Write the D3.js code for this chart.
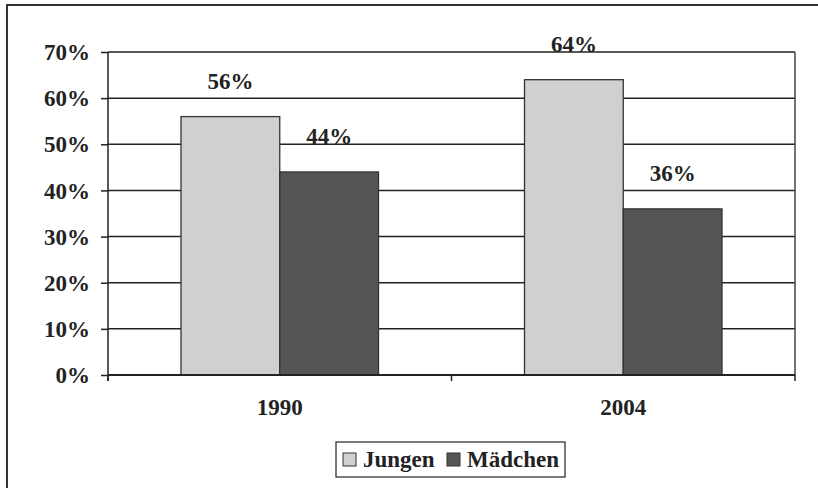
<!DOCTYPE html>
<html>
<head>
<meta charset="utf-8">
<script src="https://cdn.jsdelivr.net/npm/d3@7"></script>
<style>
  body { margin: 0; background: #fff; }
  svg text { font-family: "Liberation Serif", "Times New Roman", serif; font-weight: bold; fill: #222; }
</style>
</head>
<body>
<div id="chart"></div>
<script>
const years = ["1990", "2004"];
const seriesNames = ["Jungen", "Mädchen"];
const jungen = [56, 64];
const maedchen = [44, 36];
const yTicks = [0, 10, 20, 30, 40, 50, 60, 70];
const colors = ["#d0d0d0", "#555555"];

const W = 818, H = 488;
const margin = {top: 52, right: 23, bottom: 113, left: 108};
const width = W - margin.left - margin.right;
const height = H - margin.top - margin.bottom;

const root = d3.select("#chart").append("svg")
  .attr("width", W)
  .attr("height", H);

// outer frame
root.append("rect")
  .attr("x", 7).attr("y", 5)
  .attr("width", 830).attr("height", 500)
  .attr("fill", "none")
  .attr("stroke", "#333")
  .attr("stroke-width", 2);

const svg = root.append("g")
  .attr("transform", `translate(${margin.left},${margin.top})`);

const x0 = d3.scaleBand().domain(years).range([0, width]).paddingInner(0).paddingOuter(0);
const x1 = d3.scaleBand().domain(seriesNames).range([73, x0.bandwidth() - 73]);
const y = d3.scaleLinear().domain([0, 70]).range([height, 0]);

// grid lines
svg.append("g").selectAll("line")
  .data(yTicks.filter(t => t > 0))
  .join("line")
  .attr("x1", 0).attr("x2", width)
  .attr("y1", d => y(d)).attr("y2", d => y(d))
  .attr("stroke", "#222")
  .attr("stroke-width", 1.5);

// right border of plot area
svg.append("line")
  .attr("x1", width).attr("x2", width)
  .attr("y1", 0).attr("y2", height)
  .attr("stroke", "#444")
  .attr("stroke-width", 1.5);

const data = years.map((yr, i) => ({year: yr, values: [
  {name: seriesNames[0], value: jungen[i]},
  {name: seriesNames[1], value: maedchen[i]}
]}));

const groups = svg.append("g").selectAll("g")
  .data(data)
  .join("g")
  .attr("transform", d => `translate(${x0(d.year)},0)`);

groups.selectAll("rect")
  .data(d => d.values)
  .join("rect")
  .attr("x", d => x1(d.name))
  .attr("y", d => y(d.value))
  .attr("width", x1.bandwidth())
  .attr("height", d => height - y(d.value))
  .attr("fill", (d, i) => colors[i])
  .attr("stroke", "#333")
  .attr("stroke-width", 1.3);

groups.selectAll("text")
  .data(d => d.values)
  .join("text")
  .attr("x", d => x1(d.name) + x1.bandwidth() / 2)
  .attr("y", d => y(d.value) - 28)
  .attr("text-anchor", "middle")
  .style("font-size", "23px")
  .text(d => d.value + "%");

// y axis
const yAxis = svg.append("g")
  .call(d3.axisLeft(y).tickValues(yTicks).tickSize(7).tickPadding(11).tickFormat(d => d + "%"));
yAxis.select(".domain").attr("d", `M0,${height + 6}V0`).attr("stroke", "#222").attr("stroke-width", 1.5);
yAxis.selectAll(".tick line").attr("stroke", "#222").attr("stroke-width", 1.5);
yAxis.selectAll("text").style("font-size", "23px").attr("dy", "0.33em");

// x axis
const xAxis = svg.append("g")
  .attr("transform", `translate(0,${height})`);
xAxis.append("line")
  .attr("x1", 0).attr("x2", width)
  .attr("stroke", "#222").attr("stroke-width", 2);
xAxis.selectAll(".xt")
  .data([0, x0.bandwidth(), width])
  .join("line")
  .attr("x1", d => d).attr("x2", d => d)
  .attr("y1", 0).attr("y2", 6)
  .attr("stroke", "#222").attr("stroke-width", 1.5);
xAxis.selectAll(".xl")
  .data(years)
  .join("text")
  .attr("x", d => x0(d) + x0.bandwidth() / 2)
  .attr("y", 40)
  .attr("text-anchor", "middle")
  .style("font-size", "23px")
  .text(d => d);

// legend
const legend = root.append("g").attr("transform", "translate(336,442)");
legend.append("rect")
  .attr("width", 229).attr("height", 35)
  .attr("fill", "#fff")
  .attr("stroke", "#333").attr("stroke-width", 1.3);
const legendX = [7, 111];
seriesNames.forEach((name, i) => {
  const item = legend.append("g").attr("transform", `translate(${legendX[i]},0)`);
  item.append("rect")
    .attr("x", 0).attr("y", 11)
    .attr("width", 13).attr("height", 13)
    .attr("fill", colors[i])
    .attr("stroke", "#333").attr("stroke-width", 1);
  item.append("text")
    .attr("x", 20).attr("y", 25)
    .style("font-size", "23px")
    .text(name);
});
</script>
</body>
</html>
